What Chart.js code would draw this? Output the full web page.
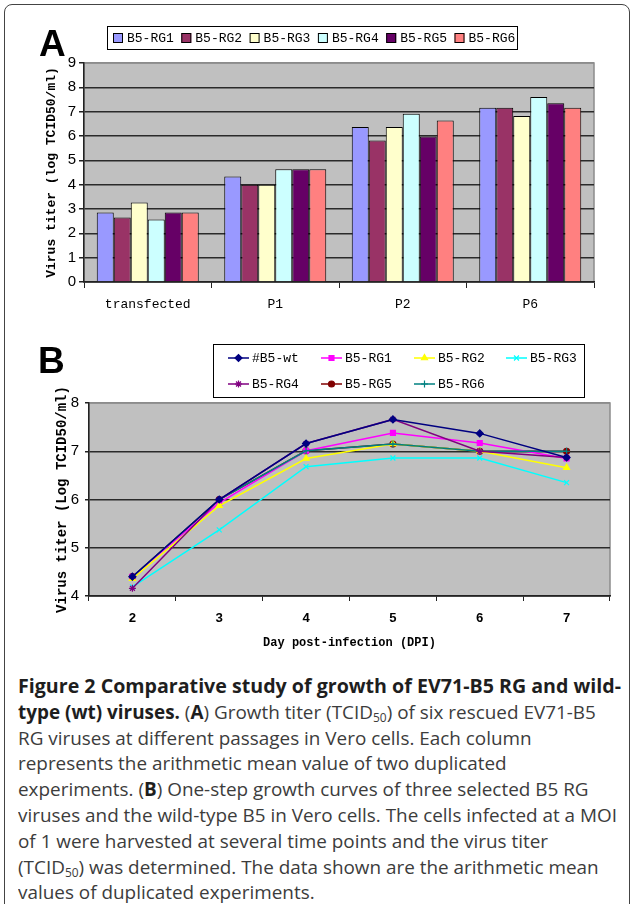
<!DOCTYPE html>
<html lang="en">
<head>
<meta charset="UTF-8">
<title>Figure 2 - EV71-B5 growth</title>
<script src="https://cdn.jsdelivr.net/npm/chart.js"></script>
<style>
    html, body { margin: 0; padding: 0; background: #fff; }
    body { width: 633px; height: 904px; position: relative; overflow: hidden; }
    .frame { position: absolute; left: 4px; top: 4px; width: 624px; height: 1000px;
             border: 1px solid #444; border-radius: 8px; }
    .panel { position: absolute; left: 0; width: 633px; height: 330px; }
    .letter { position: absolute; font: bold 37px "Liberation Sans", Arial, sans-serif; line-height: 1; color: #000; }
    .caption { position: absolute; left: 18px; top: 674px; font-family: "Open Sans", sans-serif;
               font-size: 19px; line-height: 25.8px; color: #3c3c3c; }
    .caption div { white-space: nowrap; width: max-content; transform-origin: left center; }
    .caption b { color: #1e1e1e; }
    .caption sub { font-size: 12px; line-height: 0; vertical-align: -3px; }
</style>
</head>
<body>
    <div class="frame"></div>
    <div class="panel" style="top:0"><canvas id="chartA" width="633" height="330"></canvas></div>
    <div class="panel" style="top:330px"><canvas id="chartB" width="633" height="330"></canvas></div>
    <div class="letter" style="left:39px; top:25px">A</div>
    <div class="letter" style="left:38px; top:342px">B</div>

    <div class="caption" id="caption">
        <div id="capFirst"><b>Figure 2 Comparative study of growth of EV71-B5 RG and wild-</b></div>
        <div><b>type (wt) viruses.</b> (<b>A</b>) Growth titer (TCID<sub>50</sub>) of six rescued EV71-B5</div>
        <div>RG viruses at different passages in Vero cells. Each column</div>
        <div>represents the arithmetic mean value of two duplicated</div>
        <div>experiments. (<b>B</b>) One-step growth curves of three selected B5 RG</div>
        <div id="capRef">viruses and the wild-type B5 in Vero cells. The cells infected at a MOI</div>
        <div>of 1 were harvested at several time points and the virus titer</div>
        <div>(TCID<sub>50</sub>) was determined. The data shown are the arithmetic mean</div>
        <div>values of duplicated experiments.</div>
    </div>

<script>
    // Painel A - titulo por passagem
    const passagens = ["transfected", "P1", "P2", "P6"];
    const rg1A = [2.86, 4.34, 6.37, 7.16];
    const rg2A = [2.65, 4.00, 5.82, 7.16];
    const rg3A = [3.27, 4.00, 6.37, 6.82];
    const rg4A = [2.57, 4.63, 6.91, 7.60];
    const rg5A = [2.86, 4.63, 5.98, 7.35];
    const rg6A = [2.86, 4.63, 6.64, 7.16];
    const nomesA = ["B5-RG1", "B5-RG2", "B5-RG3", "B5-RG4", "B5-RG5", "B5-RG6"];

    // Painel B - curva de crescimento (DPI)
    const dias = ["2", "3", "4", "5", "6", "7"];
    const wtB  = [4.40, 6.00, 7.16, 7.66, 7.37, 6.87];
    const rg1B = [4.40, 5.93, 7.01, 7.38, 7.17, 6.85];
    const rg2B = [4.36, 5.87, 6.85, 7.15, 7.00, 6.66];
    const rg3B = [4.19, 5.37, 6.68, 6.86, 6.86, 6.35];
    const rg4B = [4.16, 6.00, 7.16, 7.66, 7.00, 6.87];
    const rg5B = [4.40, 6.00, 7.01, 7.15, 7.00, 7.00];
    const rg6B = [4.40, 6.00, 7.01, 7.15, 7.00, 7.00];
    const nomesB = ["#B5-wt", "B5-RG1", "B5-RG2", "B5-RG3", "B5-RG4", "B5-RG5", "B5-RG6"];

    const coresA = ["#9999FF", "#993366", "#FFFFCC", "#CCFFFF", "#660066", "#FF8080"];
    const coresB = ["#000080", "#FF00FF", "#FFFF00", "#00FFFF", "#800080", "#800000", "#008080"];
    const estilosB = ["rectRot", "rect", "triangle", "crossRot", "star", "circle", "cross"];
    // ordem de desenho (maior = por baixo); RG5 fica escondido como no original
    const ordemB = [1, 6, 5, 4, 2, 7, 3];

    const MONO = '"Liberation Mono", "DejaVu Sans Mono", monospace';
    const SANS = '"Liberation Sans", Arial, sans-serif';
    Chart.defaults.color = "#000";

    // fundo cinza da area do grafico + borda
    const fundoPlugin = {
        id: "fundo",
        beforeDraw(chart) {
            const a = chart.chartArea, c = chart.ctx;
            c.save();
            c.fillStyle = "#C0C0C0";
            c.fillRect(a.left, a.top, a.right - a.left, a.bottom - a.top);
            c.strokeStyle = "#8c8c8c";
            c.lineWidth = 1.5;
            c.strokeRect(a.left, a.top, a.right - a.left, a.bottom - a.top);
            c.restore();
        }
    };

    // legenda em caixa, grade fixa
    const legendaPlugin = {
        id: "legendaCaixa",
        afterDraw(chart, args, opts) {
            if (!opts.box) return;
            const c = chart.ctx;
            const [bx, by, bw, bh] = opts.box;
            c.save();
            c.fillStyle = "#fff";
            c.fillRect(bx, by, bw, bh);
            c.strokeStyle = "#000";
            c.lineWidth = 1;
            c.strokeRect(bx + 0.5, by + 0.5, bw, bh);
            c.font = "13px " + MONO;
            c.textBaseline = "middle";
            chart.data.datasets.forEach((ds, i) => {
                const col = i % opts.cols, row = Math.floor(i / opts.cols);
                const x = opts.colX[col], y = opts.rowY[row];
                if (opts.kind === "swatch") {
                    c.fillStyle = ds.backgroundColor;
                    c.fillRect(x, y - 5, 10, 10);
                    c.strokeStyle = "#000";
                    c.strokeRect(x + 0.5, y - 4.5, 9, 9);
                    c.fillStyle = "#000";
                    c.fillText(ds.label, x + 14, y + 1);
                } else {
                    c.strokeStyle = ds.borderColor;
                    c.lineWidth = 1.5;
                    c.beginPath();
                    c.moveTo(x, y);
                    c.lineTo(x + 21, y);
                    c.stroke();
                    if (Chart.helpers && Chart.helpers.drawPoint) {
                        c.fillStyle = ds.pointBackgroundColor;
                        c.strokeStyle = ds.pointBorderColor;
                        c.lineWidth = 1.2;
                        Chart.helpers.drawPoint(c, { pointStyle: ds.pointStyle, radius: ds.pointRadius, rotation: 0, borderWidth: 1.2 }, x + 10.5, y);
                    }
                    c.fillStyle = "#000";
                    c.fillText(ds.label, x + 24, y + 1);
                }
            });
            c.restore();
        }
    };

    function corGrade(topo) {
        return (ctx) => ctx.tick && ctx.tick.value === topo ? "#8c8c8c" : "#2a2a2a";
    }

    // ---------- Grafico A (barras) ----------
    const seriesA = [rg1A, rg2A, rg3A, rg4A, rg5A, rg6A];
    new Chart(document.getElementById("chartA"), {
        type: "bar",
        data: {
            labels: passagens,
            datasets: seriesA.map((d, i) => ({
                label: nomesA[i],
                data: d,
                backgroundColor: coresA[i],
                borderColor: "#000",
                borderWidth: 1,
                borderSkipped: "bottom",
                categoryPercentage: 0.8,
                barPercentage: 1.0
            }))
        },
        options: {
            responsive: false,
            animation: false,
            layout: { padding: { left: 40, top: 63, right: 39, bottom: 0 } },
            plugins: {
                legend: { display: false },
                tooltip: { enabled: false },
                legendaCaixa: {
                    kind: "swatch", box: [107, 26, 410, 23], cols: 6,
                    colX: [113, 181.3, 249.6, 317.9, 386.2, 454.5], rowY: [38]
                }
            },
            scales: {
                x: {
                    afterFit: (s) => { s.height = 48; },
                    grid: { drawOnChartArea: false, drawTicks: true, tickLength: 6, tickColor: "#222", offset: true },
                    border: { color: "#222", width: 1.5 },
                    ticks: { font: { family: MONO, size: 13 }, padding: 9 }
                },
                y: {
                    min: 0, max: 9,
                    afterFit: (s) => { s.width = 44; },
                    grid: { color: corGrade(9), lineWidth: 1.5, tickLength: 5, tickColor: "#222" },
                    border: { color: "#222", width: 1.5 },
                    ticks: { stepSize: 1, font: { family: SANS, size: 15 }, padding: 3 },
                    title: {
                        display: true, text: "Virus titer (log TCID50/ml)",
                        font: { family: MONO, size: 13, weight: "bold" }, padding: { top: 4, bottom: 4 }
                    }
                }
            }
        },
        plugins: [fundoPlugin, legendaPlugin]
    });

    // ---------- Grafico B (linhas) ----------
    const seriesB = [wtB, rg1B, rg2B, rg3B, rg4B, rg5B, rg6B];
    new Chart(document.getElementById("chartB"), {
        type: "line",
        data: {
            labels: dias,
            datasets: seriesB.map((d, i) => ({
                label: nomesB[i],
                data: d,
                borderColor: coresB[i],
                backgroundColor: coresB[i],
                pointBackgroundColor: coresB[i],
                pointBorderColor: coresB[i],
                pointStyle: estilosB[i],
                pointRadius: estilosB[i] === "circle" ? 3 : 3.5,
                pointBorderWidth: 1.2,
                borderWidth: 1.5,
                tension: 0,
                fill: false,
                order: ordemB[i]
            }))
        },
        options: {
            responsive: false,
            animation: false,
            layout: { padding: { left: 50, top: 73, right: 23, bottom: 0 } },
            plugins: {
                legend: { display: false },
                tooltip: { enabled: false },
                legendaCaixa: {
                    kind: "line", box: [213, 14, 371, 53], cols: 4,
                    colX: [228, 321, 414, 506], rowY: [28, 54]
                }
            },
            scales: {
                x: {
                    offset: true,
                    afterFit: (s) => { s.height = 64; },
                    grid: { drawOnChartArea: false, drawTicks: true, tickLength: 5, tickColor: "#222", offset: true },
                    border: { color: "#222", width: 1.5 },
                    ticks: { font: { family: MONO, size: 13, weight: "bold" }, padding: 10 },
                    title: {
                        display: true, text: "Day post-infection (DPI)",
                        font: { family: MONO, size: 12, weight: "bold" }, padding: { top: 4, bottom: 10 }
                    }
                },
                y: {
                    min: 4, max: 8,
                    afterFit: (s) => { s.width = 39; },
                    grid: { color: corGrade(8), lineWidth: 1.5, tickLength: 4, tickColor: "#222" },
                    border: { color: "#222", width: 1.5 },
                    ticks: { stepSize: 1, font: { family: SANS, size: 15 }, padding: 6 },
                    title: {
                        display: true, text: "Virus titer (Log TCID50/ml)",
                        font: { family: MONO, size: 14, weight: "bold" }, padding: { top: 4, bottom: 4 }
                    }
                }
            }
        },
        plugins: [fundoPlugin, legendaPlugin]
    });

    // ajusta largura das linhas da legenda (fonte mais estreita no original)
    function ajustarLegenda() {
        const linhas = document.querySelectorAll("#caption div");
        const ref = document.getElementById("capRef");
        const k = 599 / ref.getBoundingClientRect().width;
        linhas.forEach(l => { l.style.transform = "scaleX(" + k + ")"; });
        const first = document.getElementById("capFirst");
        first.style.transform = "none";
        const kb = 603 / first.getBoundingClientRect().width;
        first.style.transform = "scaleX(" + kb + ")";
    }
    ajustarLegenda();
</script>
</body>
</html>
